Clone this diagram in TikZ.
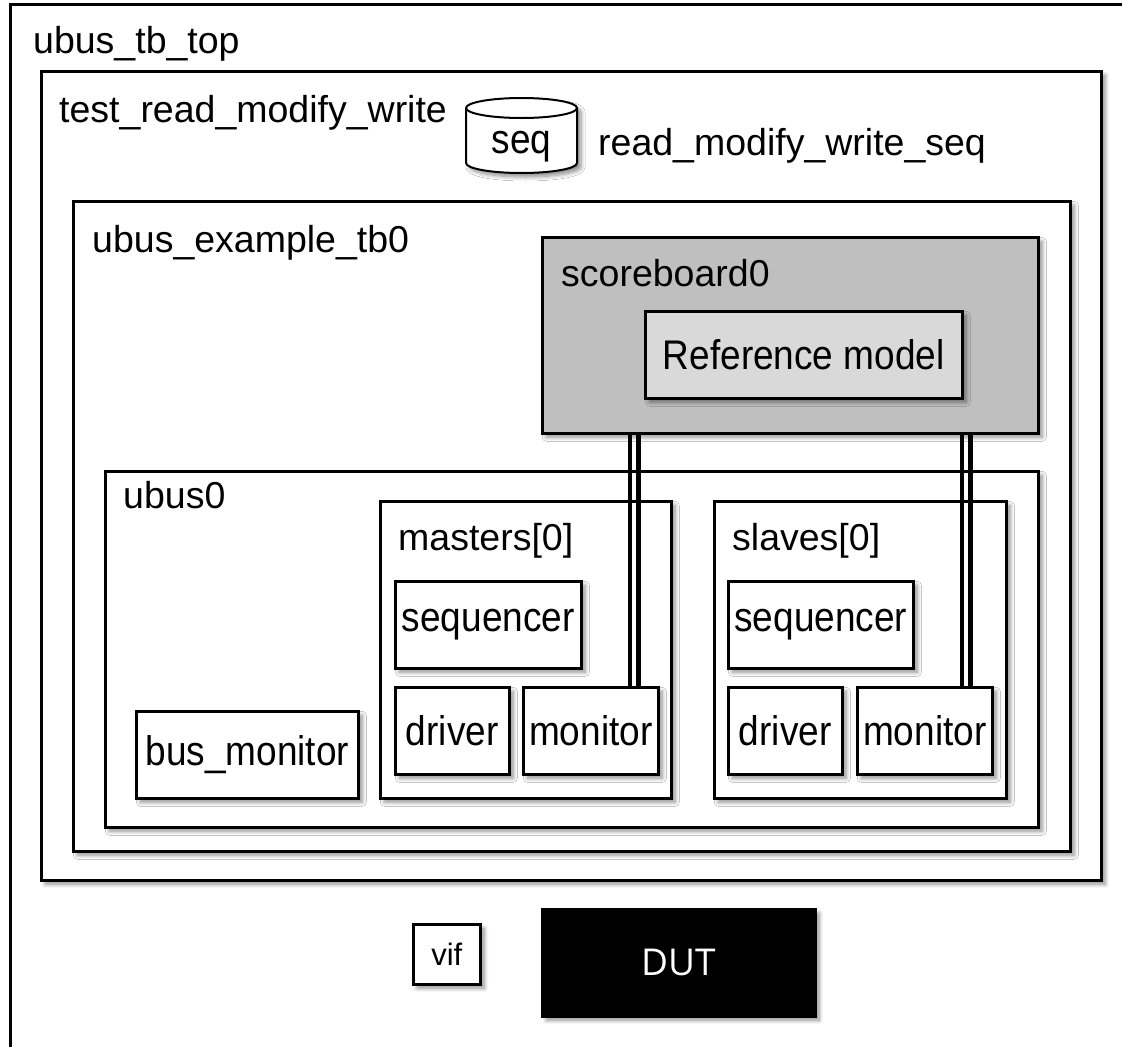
\documentclass[tikz,border=0pt]{standalone}
\usepackage{fontspec}
\setmainfont{Liberation Sans}
\newfontfamily\dutfont{Open Sans}
\usetikzlibrary{shadows.blur}

\newcommand\tall[1]{\scalebox{1}[1.12]{#1}}

\tikzset{
  softshadow/.style={blur shadow={shadow xshift=4pt, shadow yshift=-4pt,
      shadow blur radius=4pt, shadow blur steps=8, shadow opacity=45}},
  blk/.style={draw=black, line width=2.5pt, fill=white, inner sep=0pt,
      anchor=north west, softshadow},
  lbl/.style={anchor=base west, inner sep=0pt, font=\fontsize{37.5}{44}\selectfont},
  boxtxt/.style={font=\fontsize{37}{44}\selectfont},
  wire/.style={line width=4.4pt},
}

\begin{document}
\begin{tikzpicture}[x=1pt, y=-1pt]
  \useasboundingbox (0,0) rectangle (1122,1047);
  \clip (0,0) rectangle (1122,1047);

  % outermost frame: the testbench top
  \draw[line width=3pt] (10,4) rectangle (1160,1080);
  \node[lbl] (toplbl) at (33,53) {ubus\_tb\_top};

  % test
  \node[blk, minimum width=1060pt, minimum height=809pt] (test) at (40,70) {};
  \node[lbl] (testlbl) at (59,122) {test\_read\_modify\_write};

  % sequence drawn as a cylinder (arc radii are in canvas units, page-up is 90 degrees)
  \path[draw=black, line width=2pt, fill=white, softshadow]
    (466,108) -- (466,163) arc[start angle=180, end angle=360, x radius=55.5pt, y radius=10pt]
    -- (577,108) arc[start angle=0, end angle=180, x radius=55.5pt, y radius=10pt] -- cycle;
  \draw[line width=2pt] (466,108) arc[start angle=180, end angle=360, x radius=55.5pt, y radius=10pt];
  \node[boxtxt, inner sep=0pt, anchor=base] (seq) at (521.5,153) {\tall{seq}};
  \node[lbl] (seqlbl) at (598,155) {read\_modify\_write\_seq};

  % environment
  \node[blk, minimum width=997pt, minimum height=650pt] (env) at (72,200) {};
  \node[lbl] (envlbl) at (92,252) {ubus\_example\_tb0};

  % scoreboard with its reference model
  \node[blk, fill=black!25, minimum width=496pt, minimum height=196pt] (sb) at (541,236) {};
  \node[lbl] (sblbl) at (561,286) {scoreboard0};
  \node[blk, fill=black!15, minimum width=317pt, minimum height=87pt] (ref) at (644,310) {};
  \node[boxtxt] (reftxt) at (ref.center) {\tall{Reference model}};

  % bus
  \node[blk, minimum width=933pt, minimum height=356pt] (ubus) at (104,470) {};
  \node[lbl] (ubuslbl) at (123,508) {ubus0};

  % master agent
  \node[blk, minimum width=291pt, minimum height=297pt] (mst) at (379,500) {};
  \node[lbl] (mstlbl) at (398,550) {masters[0]};
  \node[blk, minimum width=186pt, minimum height=87pt, boxtxt] (mseqr) at (394,580) {\tall{sequencer}};
  \node[blk, minimum width=114pt, minimum height=87pt, boxtxt] (mdrv) at (394,686) {\tall{driver}};
  \node[blk, minimum width=135pt, minimum height=87pt, boxtxt] (mmon) at (522,686) {\tall{monitor}};

  % slave agent
  \node[blk, minimum width=292pt, minimum height=297pt] (slv) at (713,500) {};
  \node[lbl] (slvlbl) at (732,550) {slaves[0]};
  \node[blk, minimum width=185pt, minimum height=87pt, boxtxt] (sseqr) at (727,580) {\tall{sequencer}};
  \node[blk, minimum width=114pt, minimum height=87pt, boxtxt] (sdrv) at (727,686) {\tall{driver}};
  \node[blk, minimum width=135pt, minimum height=87pt, boxtxt] (smon) at (856,686) {\tall{monitor}};

  % bus monitor
  \node[blk, minimum width=222pt, minimum height=87pt, boxtxt] (bmon) at (135,710) {\tall{bus\_monitor}};

  % analysis connections from the monitors to the scoreboard
  \coordinate (mtap) at (634,0);
  \coordinate (stap) at (966,0);
  \foreach \dx in {-4.3,4.3} {
    \draw[wire] ([xshift=\dx pt]mtap |- sb.south) -- ([xshift=\dx pt]mtap |- mmon.north);
    \draw[wire] ([xshift=\dx pt]stap |- sb.south) -- ([xshift=\dx pt]stap |- smon.north);
  }

  % virtual interface and design under test
  \node[blk, minimum width=67pt, minimum height=60pt, font=\fontsize{31}{36}\selectfont] (vif) at (412,923) {vif};
  \node[blk, fill=black, minimum width=273pt, minimum height=107pt,
        text=white, font=\dutfont\fontsize{37}{44}\selectfont] (dut) at (541,908) {DUT};
\end{tikzpicture}
\end{document}
